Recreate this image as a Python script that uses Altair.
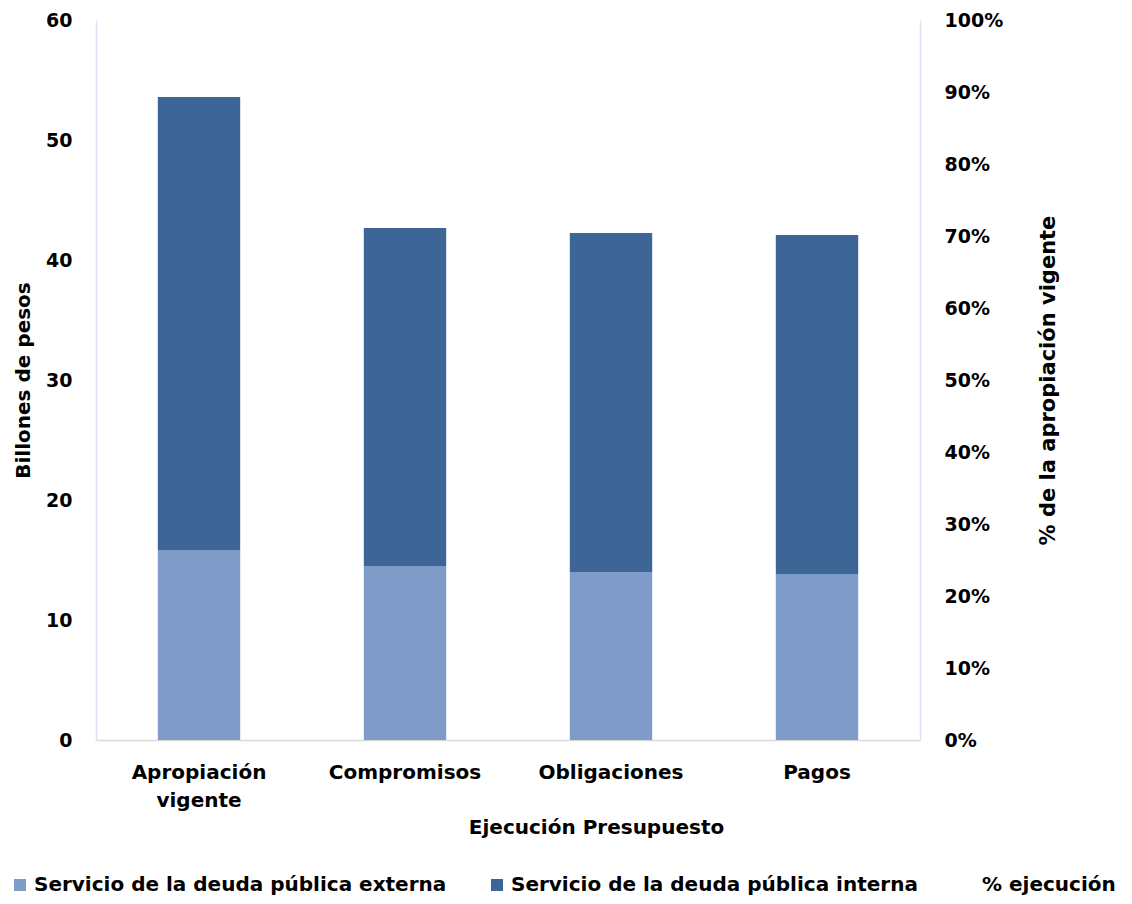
import altair as alt
import pandas as pd

categories = ["Apropiación vigente", "Compromisos", "Obligaciones", "Pagos"]
externa = [15.83, 14.5, 14.0, 13.83]
interna = [37.75, 28.17, 28.25, 28.25]
series_names = ["Servicio de la deuda pública externa", "Servicio de la deuda pública interna", "% ejecución"]

rows = []
for c, e, i in zip(categories, externa, interna):
    rows.append({"cat": c, "serie": series_names[0], "valor": e, "orden": 0})
    rows.append({"cat": c, "serie": series_names[1], "valor": i, "orden": 1})
df = pd.DataFrame(rows)

totals = [e + i for e, i in zip(externa, interna)]
ejec = [t / totals[0] for t in totals]
df_pct = pd.DataFrame({"cat": categories, "pct": ejec, "serie": series_names[2]})

FONT = "DejaVu Sans"

xenc = alt.X("cat:N", sort=categories,
             scale=alt.Scale(paddingInner=0.6, paddingOuter=0.3),
             axis=alt.Axis(title="Ejecución Presupuesto", labelAngle=0,
                           labelExpr="split(datum.label, ' ')",
                           labelPadding=22, labelLineHeight=28,
                           labelFontSize=20, labelFontWeight="bold", labelFont=FONT,
                           titleFontSize=20, titleFontWeight="bold", titleFont=FONT,
                           titleX=500, titleY=77,
                           domainColor="#D9D9D9", domainWidth=1.5, ticks=False))

bars = alt.Chart(df).mark_bar().encode(
    x=xenc,
    y=alt.Y("valor:Q", stack="zero",
            scale=alt.Scale(domain=[0, 60]),
            axis=alt.Axis(title="Billones de pesos", values=[0, 10, 20, 30, 40, 50, 60],
                          grid=False, ticks=False, labelPadding=24,
                          domainColor="#DAE3F3", domainWidth=1.5,
                          labelFontSize=19, labelFontWeight="bold", labelFont=FONT,
                          titleFontSize=20, titleFontWeight="bold", titleFont=FONT,
                          titlePadding=12)),
    color=alt.Color("serie:N",
                    scale=alt.Scale(domain=series_names,
                                    range=["#7F9CC8", "#3D6595", "#FFFFFF"]),
                    legend=alt.Legend(title=None, orient="none", direction="horizontal",
                                      legendX=-86, legendY=855,
                                      symbolType="square", symbolSize=144,
                                      symbolStrokeWidth=0,
                                      labelFontSize=20, labelFontWeight="bold", labelFont=FONT,
                                      labelColor="#000000", labelOffset=4,
                                      columnPadding=40, labelLimit=600)),
    order=alt.Order("orden:Q")
)

line = alt.Chart(df_pct).mark_line(strokeOpacity=0).encode(
    x=alt.X("cat:N", sort=categories),
    y=alt.Y("pct:Q", scale=alt.Scale(domain=[0, 1]),
            axis=alt.Axis(title="% de la apropiación vigente", orient="right", format=".0%",
                          values=[0, 0.1, 0.2, 0.3, 0.4, 0.5, 0.6, 0.7, 0.8, 0.9, 1.0],
                          grid=False, ticks=False, labelPadding=24,
                          domainColor="#DAE3F3", domainWidth=1.5,
                          labelFontSize=19, labelFontWeight="bold", labelFont=FONT,
                          titleFontSize=21, titleFontWeight="bold", titleFont=FONT,
                          titleAngle=270, titlePadding=56))
)

chart = alt.layer(bars, line).resolve_scale(y="independent").properties(
    width=824, height=720,
    autosize=alt.AutoSizeParams(type="none"),
    padding={"left": 88, "top": 12, "right": 204, "bottom": 156},
).configure_view(stroke=None).configure_axis(labelColor="#000000", titleColor="#000000")

chart.save("out.html", embed_options={"renderer": "svg", "actions": False})
